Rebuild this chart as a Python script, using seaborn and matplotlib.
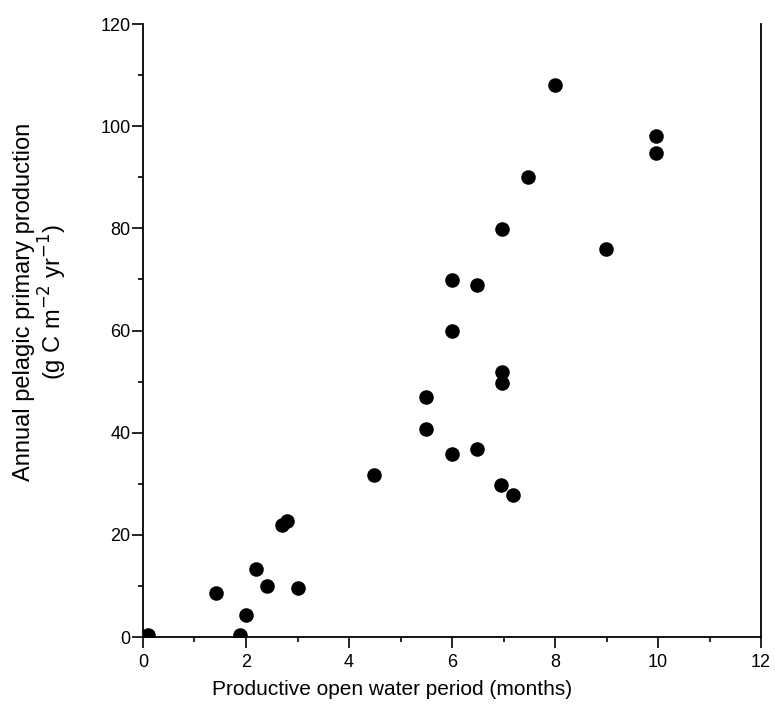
import numpy as np
import pandas as pd
import matplotlib
matplotlib.use("Agg")
import matplotlib.pyplot as plt
import seaborn as sns
from matplotlib.ticker import MultipleLocator

# values
open_water_months = [0.1, 1.42, 1.88, 2.0, 2.19, 2.4, 3.0, 2.69, 2.79,
                     4.49, 5.5, 5.5, 6.0, 6.0, 6.0, 6.49, 6.49,
                     6.98, 6.98, 6.96, 7.19, 6.98, 7.48, 8.0, 8.98, 9.97, 9.97]
primary_production = [0.4, 8.7, 0.4, 4.4, 13.4, 10.0, 9.7, 21.9, 22.8,
                      31.7, 46.9, 40.7, 69.8, 60.0, 35.8, 68.9, 36.8,
                      51.9, 49.8, 29.8, 27.8, 79.9, 90.0, 108.1, 75.9, 98.1, 94.8]
x_ticks = [0, 2, 4, 6, 8, 10, 12]
y_ticks = [0, 20, 40, 60, 80, 100, 120]

df = pd.DataFrame({"months": open_water_months, "production": primary_production})

sns.set_style("ticks")
plt.rcParams["font.family"] = ["Liberation Sans", "DejaVu Sans"]
plt.rcParams["text.color"] = "black"
plt.rcParams["axes.labelcolor"] = "black"
plt.rcParams["xtick.color"] = "black"
plt.rcParams["ytick.color"] = "black"

fig = plt.figure(figsize=(7.75, 7.15), dpi=100)
ax = fig.add_axes([0.1845, 0.109, 0.7975, 0.8574])

sns.scatterplot(data=df, x="months", y="production", ax=ax,
                color="black", s=110, edgecolor="black", linewidth=0)

ax.set_xlim(0, 12)
ax.set_ylim(0, 120)
ax.set_xticks(x_ticks)
ax.set_yticks(y_ticks)
ax.set_xticklabels([str(v) for v in x_ticks])
ax.set_yticklabels([str(v) for v in y_ticks])
ax.xaxis.set_minor_locator(MultipleLocator(1))
ax.yaxis.set_minor_locator(MultipleLocator(10))

ax.tick_params(which="major", direction="out", length=8, width=1.2,
               labelsize=13, colors="black")
ax.tick_params(axis="y", which="major", pad=1)
ax.tick_params(axis="x", which="major", pad=4)
ax.tick_params(which="minor", direction="out", length=3.5, width=1.2, color="black")

ax.spines["top"].set_visible(False)
for side in ["left", "bottom", "right"]:
    ax.spines[side].set_color("black")
    ax.spines[side].set_linewidth(1.3)

ax.set_xlabel("Productive open water period (months)", fontsize=15)
ax.set_ylabel("Annual pelagic primary production\n(g C m$^{-2}$ yr$^{-1}$)",
              fontsize=17, linespacing=1.05)
ax.xaxis.set_label_coords(0.403, -0.07)
ax.yaxis.set_label_coords(-0.12, 0.546)

fig.savefig("out.png", dpi=100)
